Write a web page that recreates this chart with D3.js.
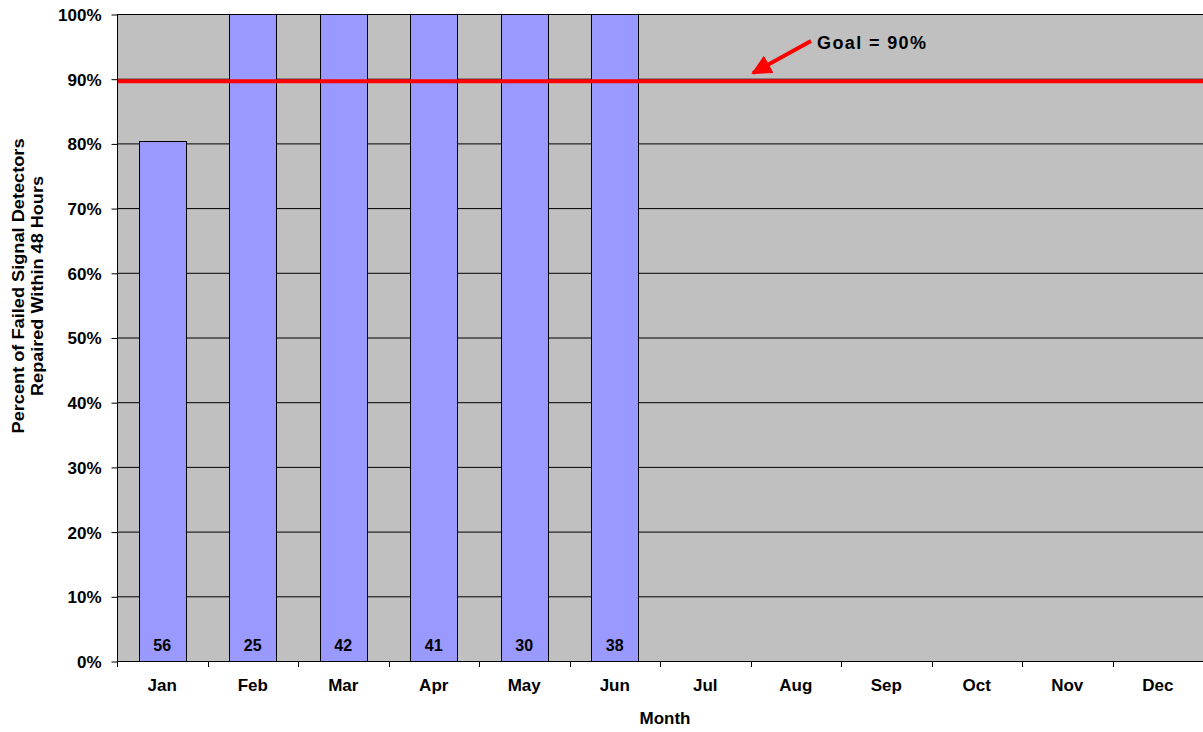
<!DOCTYPE html>
<html>
<head>
<meta charset="utf-8">
<script src="https://cdn.jsdelivr.net/npm/d3@7"></script>
<style>
  body { margin: 0; background: #fff; }
  svg text { font-family: "Liberation Sans", Arial, sans-serif; font-weight: bold; fill: #000; }
</style>
</head>
<body>
<svg id="chart" width="1203" height="732"></svg>
<script>
// datos del grafico
var months = ["Jan","Feb","Mar","Apr","May","Jun","Jul","Aug","Sep","Oct","Nov","Dec"];
var pctRepaired = [80.4, 100, 100, 100, 100, 100, null, null, null, null, null, null];
var failedCount = [56, 25, 42, 41, 30, 38, null, null, null, null, null, null];
var yTicks = [0, 10, 20, 30, 40, 50, 60, 70, 80, 90, 100];
var goalValue = 89.6;
var goalLabel = "Goal = 90%";

var svg = d3.select("#chart");
var m = {left: 117, top: 14, right: 0, bottom: 71};
var W = 1203, H = 732;

var x = d3.scaleBand().domain(months).range([m.left, W - m.right]).paddingInner(0.48).paddingOuter(0.24);
var xb = d3.scaleBand().domain(months).range([m.left, W - m.right]);
var y = d3.scaleLinear().domain([0, 100]).range([H - m.bottom, m.top]);

// fondo
svg.append("rect")
    .attr("x", m.left).attr("y", m.top)
    .attr("width", W - m.right - m.left).attr("height", y(0) - m.top)
    .style("fill", "#c0c0c0");

// rejilla
svg.selectAll(".grid")
    .data(yTicks.filter(function(d) {return d > 0;}))
    .enter().append("line")
    .attr("class", "grid")
    .attr("x1", m.left).attr("x2", W - m.right)
    .attr("y1", function(d) {return y(d) + 0.5;})
    .attr("y2", function(d) {return y(d) + 0.5;})
    .style("stroke", "#000").style("stroke-width", 1);

// barras
var data = months.map(function(d, i) {return {m: d, v: pctRepaired[i], n: failedCount[i]};})
    .filter(function(d) {return d.v !== null;});

svg.selectAll(".bar")
    .data(data)
    .enter().append("rect")
    .attr("class", "bar")
    .attr("x", function(d) {return Math.round(x(d.m)) + 0.5;})
    .attr("y", function(d) {return Math.round(y(d.v)) + 0.5;})
    .attr("width", Math.round(x.bandwidth()))
    .attr("height", function(d) {return Math.round(y(0)) - Math.round(y(d.v));})
    .style("fill", "#9999ff")
    .style("stroke", "#000").style("stroke-width", 1);

svg.selectAll(".nlab")
    .data(data)
    .enter().append("text")
    .attr("class", "nlab")
    .attr("x", function(d) {return x(d.m) + x.bandwidth() / 2;})
    .attr("y", y(0) - 10)
    .attr("text-anchor", "middle")
    .style("font-size", "16px")
    .text(function(d) {return d.n;});

// linea objetivo
svg.append("line")
    .attr("x1", m.left).attr("x2", W - m.right)
    .attr("y1", y(goalValue)).attr("y2", y(goalValue))
    .style("stroke", "#ff0000").style("stroke-width", 4);

// ejes
svg.append("line")
    .attr("x1", m.left + 0.5).attr("x2", m.left + 0.5)
    .attr("y1", m.top).attr("y2", y(0))
    .style("stroke", "#000").style("stroke-width", 1);
svg.append("line")
    .attr("x1", m.left).attr("x2", W)
    .attr("y1", y(0) + 0.5).attr("y2", y(0) + 0.5)
    .style("stroke", "#000").style("stroke-width", 1);

var yAxis = svg.append("g")
    .attr("transform", "translate(" + (m.left + 0.5) + ",0.5)")
    .call(d3.axisLeft(y).tickValues(yTicks).tickSize(6).tickPadding(10)
        .tickFormat(function(d) {return d + "%";}));
yAxis.select(".domain").remove();
yAxis.selectAll("text").style("font-size", "17px").attr("dy", "0.35em");

var xTicks = months.map(function(d) {return xb(d);});
xTicks.push(W - m.right);
svg.selectAll(".xt")
    .data(xTicks)
    .enter().append("line")
    .attr("x1", function(d) {return Math.round(d) + 0.5;})
    .attr("x2", function(d) {return Math.round(d) + 0.5;})
    .attr("y1", y(0)).attr("y2", y(0) + 6)
    .style("stroke", "#000");

svg.selectAll(".xlab")
    .data(months)
    .enter().append("text")
    .attr("x", function(d) {return xb(d) + xb.bandwidth() / 2;})
    .attr("y", y(0) + 30)
    .attr("text-anchor", "middle")
    .style("font-size", "17px")
    .text(function(d) {return d;});

svg.append("text")
    .attr("x", 665).attr("y", 724)
    .attr("text-anchor", "middle")
    .style("font-size", "17px")
    .text("Month");

var yt = svg.append("text")
    .attr("transform", "translate(24,286) rotate(-90)")
    .attr("text-anchor", "middle")
    .style("font-size", "16px");
yt.append("tspan").attr("x", 0).attr("dy", 0)
    .attr("textLength", 295).attr("lengthAdjust", "spacingAndGlyphs")
    .text("Percent of Failed Signal Detectors");
yt.append("tspan").attr("x", 0).attr("dy", 19)
    .attr("textLength", 220).attr("lengthAdjust", "spacingAndGlyphs")
    .text("Repaired Within 48 Hours");

// flecha del objetivo
svg.append("defs").append("marker")
    .attr("id", "arrow")
    .attr("viewBox", "0 0 10 10")
    .attr("refX", 9).attr("refY", 5)
    .attr("markerWidth", 5).attr("markerHeight", 5)
    .attr("markerUnits", "strokeWidth")
    .attr("orient", "auto")
    .append("path").attr("d", "M0,0 L10,5 L0,10 Z").style("fill", "#ff0000");

svg.append("line")
    .attr("x1", 811).attr("y1", 41)
    .attr("x2", 753).attr("y2", 73)
    .style("stroke", "#ff0000").style("stroke-width", 4)
    .attr("marker-end", "url(#arrow)");

svg.append("text")
    .attr("x", 817).attr("y", 49)
    .attr("textLength", 109).attr("lengthAdjust", "spacing")
    .style("font-size", "18px")
    .text(goalLabel);
</script>
</body>
</html>
